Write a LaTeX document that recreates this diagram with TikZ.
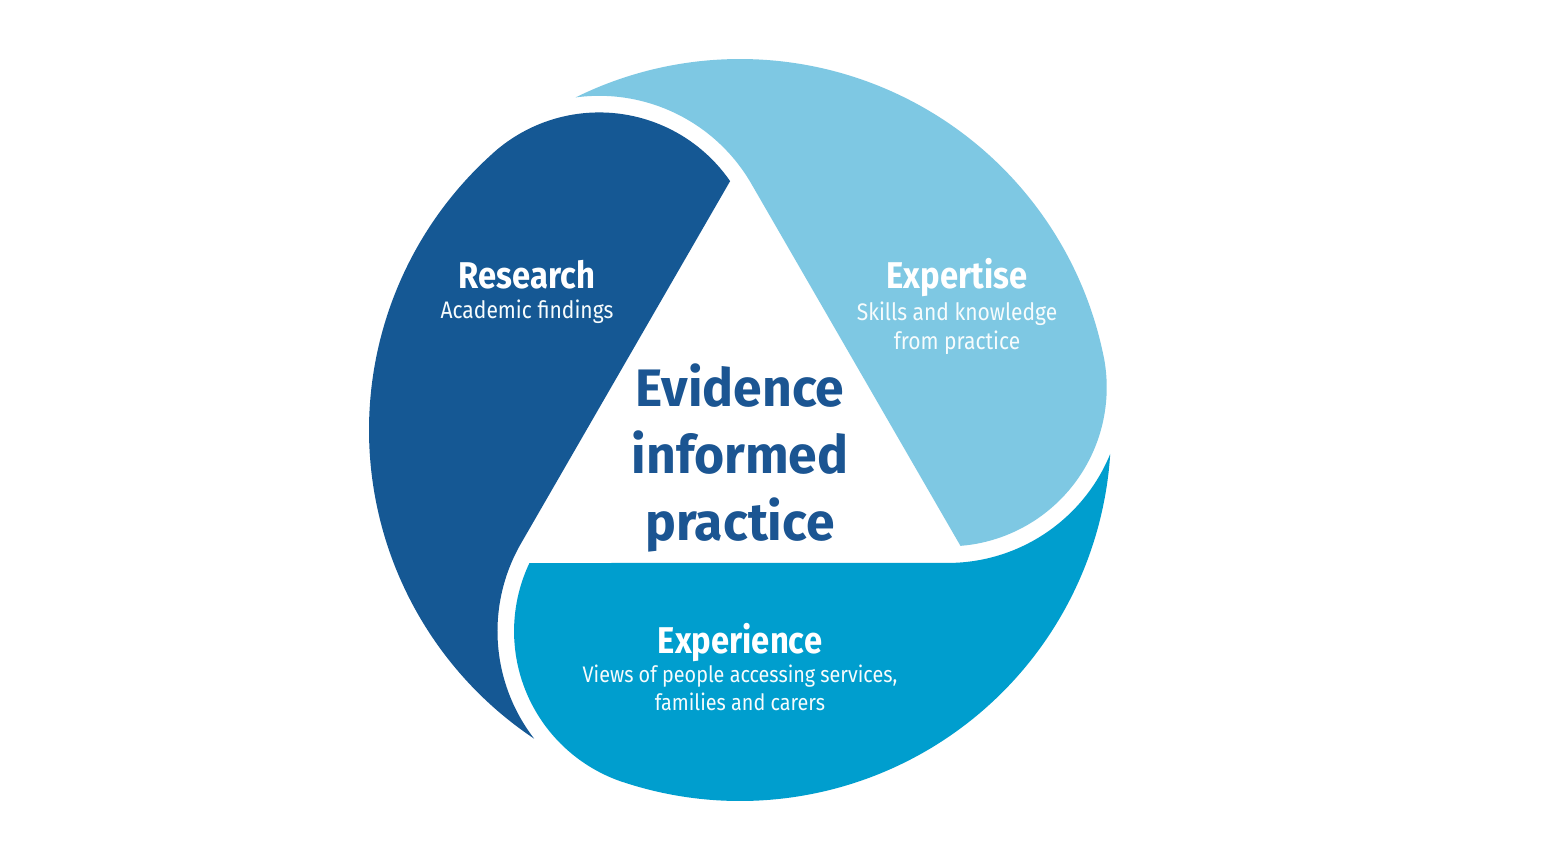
\documentclass[tikz,border=0pt]{standalone}
\usepackage{fontspec}
\setmainfont{Fira Sans}[FakeStretch=0.88]
\newfontfamily\centrefont{Fira Sans}[FakeStretch=0.98]
\usetikzlibrary{positioning}

\definecolor{researchblue}{HTML}{155894}
\definecolor{expertiseblue}{HTML}{7EC8E3}
\definecolor{experienceblue}{HTML}{009ECE}
\definecolor{centreblue}{HTML}{1B5592}

\tikzset{
	head/.style={inner sep=0pt, text=white, font=\bfseries\fontsize{10.6}{12}\selectfont},
	sub/.style={inner sep=0pt, text=white!94!expertiseblue, align=center, font=\fontsize{6.8}{8.3}\selectfont},
	centre/.style={inner sep=0pt, text=centreblue, align=center, font=\centrefont\bfseries\fontsize{15}{19}\selectfont}
}

\begin{document}
\begin{tikzpicture}
	\fill [white] (-7.40,-4.36) rectangle (8.26,4.30);
	% three blades, each one the next turned by 120 degrees
	\foreach \turn/\col in {0/researchblue,-120/expertiseblue,120/experienceblue}
		\fill [\col, rotate=\turn] (131.6:3.71) arc[start angle=131.6, end angle=236.3, radius=3.71]
			arc[start angle=217.7, end angle=150, radius=1.7565]
			-- (-0.099,2.4886)
			arc[start angle=34.6, end angle=131.6, radius=1.59] -- cycle;
	\node [centre] (evidence) at (0,-0.28) {Evidence\\informed\\practice};
	\node [head] (research) at (-2.13,1.55) {Research};
	\node [sub, below=0.09 of research] (findings) {Academic findings};
	\node [head] (expertise) at (2.17,1.52) {Expertise};
	\node [sub, below=0.03 of expertise] (skills) {Skills and knowledge\\from practice};
	\node [head] (experience) at (0,-2.13) {Experience};
	\node [sub, below=0.01 of experience, font=\fontsize{6.4}{8}\selectfont] (views) {Views of people accessing services,\\families and carers};
\end{tikzpicture}
\end{document}
